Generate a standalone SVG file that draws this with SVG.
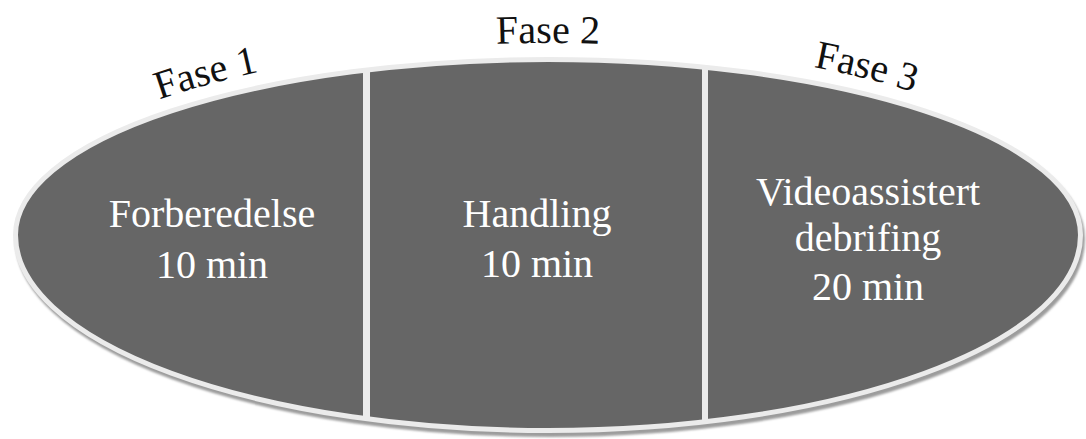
<svg xmlns="http://www.w3.org/2000/svg" width="1086" height="439" viewBox="0 0 1086 439">
  <style>
    .phase { font-family: "Liberation Serif", "Times New Roman", serif; font-size: 40px; fill: #ffffff; text-anchor: middle; }
    .label { font-family: "Liberation Serif", "Times New Roman", serif; font-size: 40px; fill: #111111; }
    .divider { fill: #ebebeb; }
  </style>
  <defs>
    <path id="shape" d="M15.5,235 A532.5,175.5 0 0 1 1080.5,235 A532.5,195.5 0 0 1 15.5,235 Z"/>
    <clipPath id="shapeClip">
      <use href="#shape"/>
    </clipPath>
    <filter id="soft" x="-5%" y="-5%" width="110%" height="110%">
      <feGaussianBlur stdDeviation="0.8"/>
    </filter>
    <!-- arcs for the curved phase labels -->
    <path id="arc1" d="M130,110.6 A560,202 0 0 1 290,65.7"/>
    <path id="arc2" d="M468,45.1 A560,202 0 0 1 628,45.1"/>
    <path id="arc3" d="M783,61.6 A560,202 0 0 1 943,101.8"/>
  </defs>

  <!-- drop shadow under the oval -->
  <use href="#shape" transform="translate(2,4)" fill="#9c9c9c" stroke="#9c9c9c" stroke-width="5" filter="url(#soft)"/>

  <!-- oval body -->
  <use href="#shape" fill="#666666"/>

  <g id="dividers" clip-path="url(#shapeClip)">
    <rect class="divider" x="363" y="40" width="7" height="410"/>
    <rect class="divider" x="702" y="40" width="6" height="410"/>
  </g>

  <!-- rim -->
  <use href="#shape" fill="none" stroke="#ebebeb" stroke-width="5"/>

  <g id="phase1">
    <text class="phase" x="212" y="227">Forberedelse</text>
    <text class="phase" x="212" y="278">10 min</text>
    <text class="label"><textPath href="#arc1" startOffset="50%" text-anchor="middle">Fase 1</textPath></text>
  </g>

  <g id="phase2">
    <text class="phase" x="537" y="227">Handling</text>
    <text class="phase" x="537" y="277">10 min</text>
    <text class="label"><textPath href="#arc2" startOffset="50%" text-anchor="middle">Fase 2</textPath></text>
  </g>

  <g id="phase3">
    <text class="phase" x="868" y="205">Videoassistert</text>
    <text class="phase" x="868" y="251">debrifing</text>
    <text class="phase" x="868" y="300">20 min</text>
    <text class="label"><textPath href="#arc3" startOffset="50%" text-anchor="middle">Fase 3</textPath></text>
  </g>

  <g id="connectors"/>
</svg>
